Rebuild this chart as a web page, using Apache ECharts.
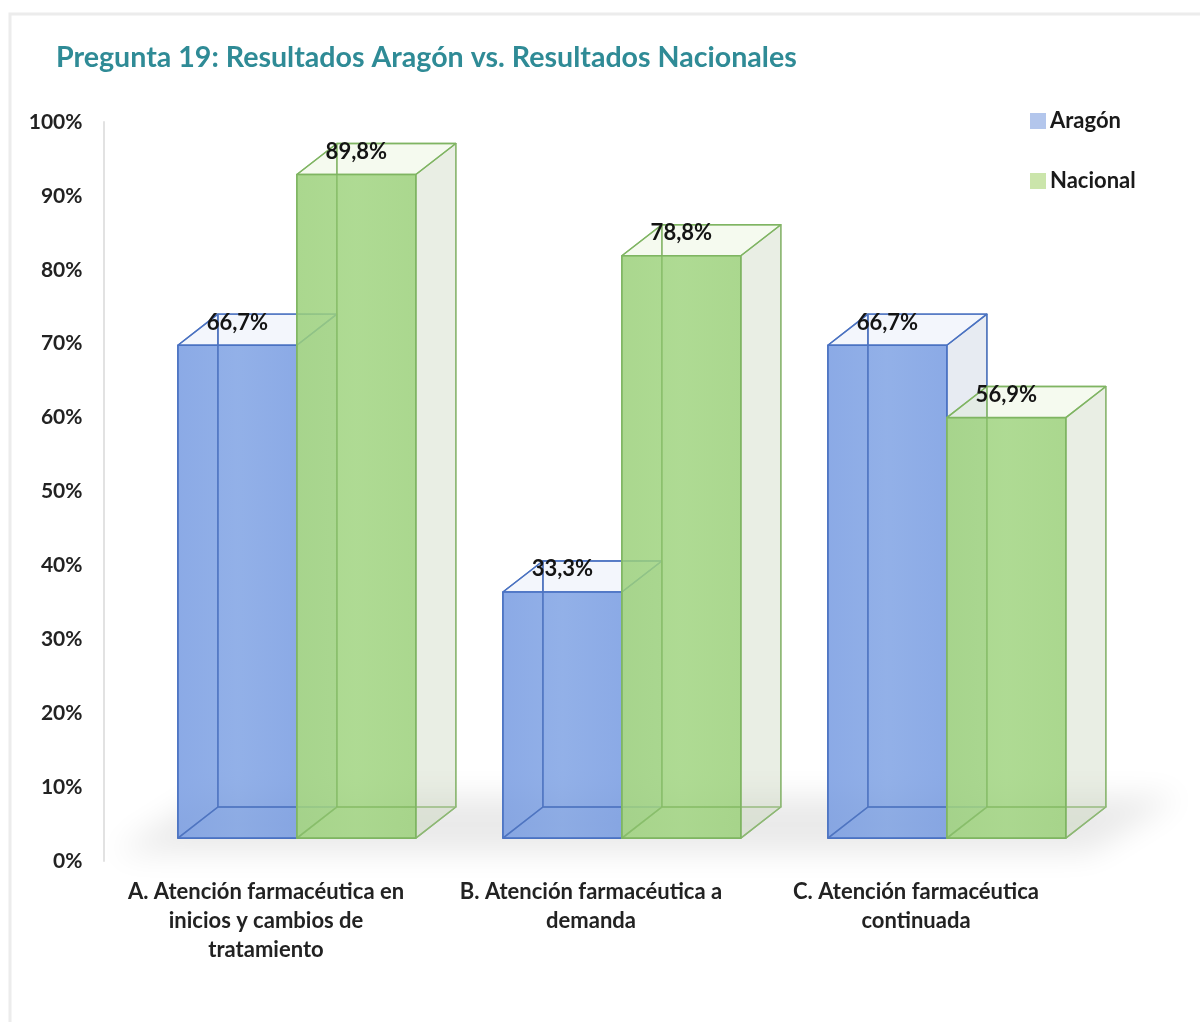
<!DOCTYPE html>
<html>
<head>
<meta charset="utf-8">
<style>html,body{margin:0;padding:0;background:#fff}#c{width:1200px;height:1022px}</style>
<script src="https://cdn.jsdelivr.net/npm/echarts@6/dist/echarts.min.js"></script>
</head>
<body>
<div id="c"></div>
<script>
const categories = [
  'A. Atención farmacéutica en\ninicios y cambios de\ntratamiento',
  'B. Atención farmacéutica a\ndemanda',
  'C. Atención farmacéutica\ncontinuada'
];
const aragon = [66.7, 33.3, 66.7];
const nacional = [89.8, 78.8, 56.9];
const FONT = 'Lato';

const chart = echarts.init(document.getElementById('c'));

function cube(color) {
  return function (params, api) {
    const idx = api.value(0), v = api.value(1);
    const band = api.size([1, 0])[0];
    const pct = api.size([0, 1])[1];
    const c = api.coord([idx, v]);
    const z = api.coord([idx, 0]);
    const w = band * color.width;
    const xL = c[0] + band * color.offset;
    const xR = xL + w;
    const lift = 3.1 * pct;              // the 3D floor sits above the zero line
    const yT = c[1] - lift, yB = z[1] - lift;
    const dx = band * 0.123, dy = -4.2 * pct;
    const poly = (pts, fill, stroke, lw) => ({
      type: 'polygon', shape: { points: pts },
      style: { fill: fill, stroke: stroke || null, lineWidth: lw || 1.4, lineJoin: 'round' }
    });
    const line = (pts, stroke, lw) => ({
      type: 'polyline', shape: { points: pts },
      style: { fill: null, stroke: stroke, lineWidth: lw || 1.4, lineJoin: 'round' }
    });
    return {
      type: 'group',
      children: [
        // back wall, left wall, floor
        poly([[xL + dx, yT + dy], [xR + dx, yT + dy], [xR + dx, yB + dy], [xL + dx, yB + dy]], color.back, color.edgeSoft),
        poly([[xL, yT], [xL + dx, yT + dy], [xL + dx, yB + dy], [xL, yB]], color.back, color.edgeSoft),
        poly([[xL, yB], [xR, yB], [xR + dx, yB + dy], [xL + dx, yB + dy]], color.floor, color.edgeSoft),
        // right wall, top
        poly([[xR, yT], [xR + dx, yT + dy], [xR + dx, yB + dy], [xR, yB]], color.side, color.edgeSoft),
        poly([[xL, yT], [xR, yT], [xR + dx, yT + dy], [xL + dx, yT + dy]], color.top, color.edge),
        // front
        poly([[xL, yT], [xR, yT], [xR, yB], [xL, yB]], {
          type: 'linear', x: 0, y: 0, x2: 1, y2: 0,
          colorStops: [
            { offset: 0, color: color.front1 },
            { offset: 0.5, color: color.front2 },
            { offset: 1, color: color.front1 }
          ]
        }, color.edge, 1.6),
        // hidden edges seen through the translucent front
        line([[xL, yB], [xL + dx, yB + dy], [xR, yB + dy]], color.wire),
        line([[xL + dx, yT + dy], [xL + dx, yB + dy]], color.wire),
        {
          type: 'text', z2: 100,
          style: {
            x: (xL + xR) / 2, y: yT + dy * 0.73,
            text: v.toFixed(1).replace('.', ',') + '%',
            align: 'center', verticalAlign: 'middle',
            fill: '#141414', font: 'bold 22px ' + FONT
          }
        }
      ]
    };
  };
}

const blue = {
  width: 0.366, offset: -0.271,
  back: 'rgba(116,152,224,0.06)', floor: 'rgba(116,152,224,0.08)',
  side: 'rgba(200,205,220,0.32)', top: 'rgba(225,232,248,0.18)',
  front1: 'rgba(112,150,224,0.80)', front2: 'rgba(118,156,226,0.78)',
  edge: '#4a72c2', edgeSoft: '#5277bd', wire: '#4f74bf'
};
const green = {
  width: 0.366, offset: 0.095,
  back: 'rgba(160,208,120,0.05)', floor: 'rgba(170,205,140,0.10)',
  side: 'rgba(205,212,195,0.38)', top: 'rgba(228,242,210,0.22)',
  front1: 'rgba(155,208,122,0.84)', front2: 'rgba(160,212,128,0.84)',
  edge: '#7fb562', edgeSoft: '#8db874', wire: 'rgba(125,178,95,0.6)'
};

chart.setOption({
  animation: false,
  backgroundColor: '#ffffff',
  title: {
    text: 'Pregunta 19: Resultados Aragón vs. Resultados Nacionales',
    left: 51, top: 38,
    textStyle: { fontFamily: FONT, fontWeight: 'bold', fontSize: 28.6, color: '#2f8b96' }
  },
  legend: {
    orient: 'vertical', left: 1025, top: 103, itemWidth: 16, itemHeight: 16,
    itemGap: 34, icon: 'rect',
    textStyle: { fontFamily: FONT, fontWeight: 'bold', fontSize: 22, color: '#1a1a1a', padding: [0, 0, 0, -1], lineHeight: 26 },
    data: [
      { name: 'Aragón', itemStyle: { color: '#b3c6ec' } },
      { name: 'Nacional', itemStyle: { color: '#cbe5ab' } }
    ]
  },
  grid: { left: 103.5, top: 122, width: 975, height: 739 },
  xAxis: {
    type: 'category', data: categories,
    axisLine: { show: false }, axisTick: { show: false },
    axisLabel: { interval: 0, margin: 16, color: '#222', fontFamily: FONT, fontWeight: 'bold', fontSize: 22, lineHeight: 29, align: 'center' }
  },
  yAxis: {
    type: 'value', min: 0, max: 100, interval: 10,
    splitLine: { show: false },
    axisTick: { show: false },
    axisLine: { show: true, lineStyle: { color: '#e2e2e2', width: 2 } },
    axisLabel: { margin: 21, color: '#222', fontFamily: FONT, fontWeight: 'bold', fontSize: 21, padding: [4, 0, 0, 0], formatter: '{value}%' }
  },
  graphic: [
    { type: 'rect', z: -2, shape: { x: 10, y: 14, width: 1300, height: 1200 }, style: { fill: '#fff', stroke: '#ececec', lineWidth: 3 } },
    { type: 'polygon', z: -1,
      shape: { points: [[115 - 3000, 853], [1090 - 3000, 853], [1180 - 3000, 796], [205 - 3000, 796]] },
      style: { fill: '#000', shadowColor: 'rgba(0,0,0,0.085)', shadowBlur: 30, shadowOffsetX: 3000, shadowOffsetY: 0 } }
  ],
  series: [
    { name: 'Aragón', type: 'custom', coordinateSystem: 'cartesian2d', encode: { x: 0, y: 1 }, clip: false,
      itemStyle: { color: '#b3c6ec' }, renderItem: cube(blue), z: 3,
      data: aragon.map((v, i) => [i, v]) },
    { name: 'Nacional', type: 'custom', coordinateSystem: 'cartesian2d', encode: { x: 0, y: 1 }, clip: false,
      itemStyle: { color: '#cbe5ab' }, renderItem: cube(green), z: 4,
      data: nacional.map((v, i) => [i, v]) }
  ]
});
</script>
</body>
</html>
